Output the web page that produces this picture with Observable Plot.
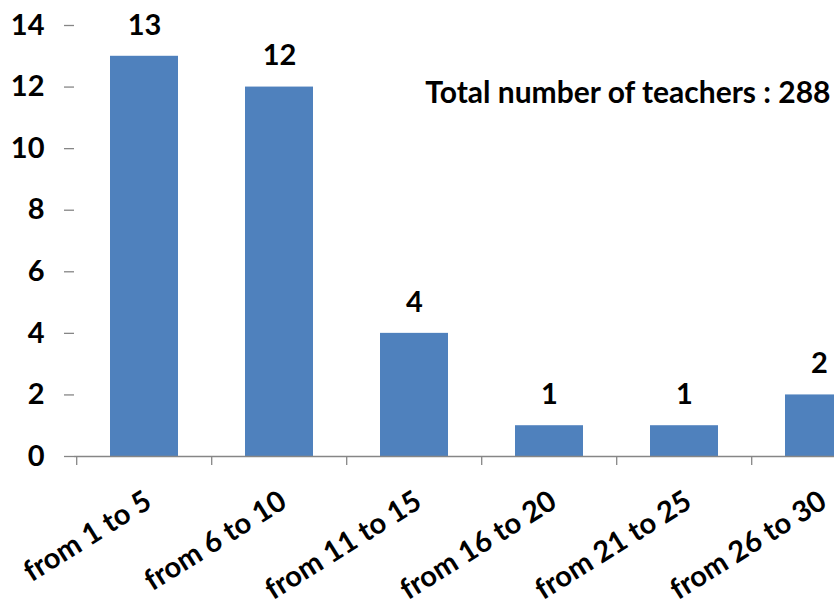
<!DOCTYPE html>
<html>
<head>
<meta charset="utf-8">
<script src="https://cdn.jsdelivr.net/npm/d3@7"></script>
<script src="https://cdn.jsdelivr.net/npm/@observablehq/plot@0.6"></script>
<style>
  html, body { margin: 0; padding: 0; background: #fff; }
  #chart svg { display: block; }
</style>
</head>
<body>
<div id="chart"></div>
<script>
const categories = ["from 1 to 5", "from 6 to 10", "from 11 to 15", "from 16 to 20", "from 21 to 25", "from 26 to 30"];
const counts = [13, 12, 4, 1, 1, 2];
const yTicks = [0, 2, 4, 6, 8, 10, 12, 14];
const totalLabel = "Total number of teachers : 288";
const totalLabelY = 11.8;

const data = categories.map((c, i) => ({category: c, count: counts[i]}));

const W = 834, H = 603;
const left = 74, xEnd = 887.5;
const step = (xEnd - left) / categories.length;
const font = "Lato, 'Open Sans', sans-serif";
const fs = 29;
const axisColor = "#868686";

const chart = Plot.plot({
  width: W,
  height: H,
  marginLeft: left,
  marginRight: 0,
  marginTop: 25,
  marginBottom: 147,
  style: {fontFamily: font, fontWeight: "bold", color: "#000", background: "#fff", overflow: "hidden"},
  x: {domain: categories, range: [left, xEnd], paddingInner: 0.5, paddingOuter: 0.25, axis: null},
  y: {domain: [0, 14], axis: null},
  marks: [
    Plot.barY(data, {x: "category", y: "count", fill: "#4f81bd"}),
    Plot.ruleX(categories, {x: d => d, y1: 0, y2: 0, dx: -step / 2, insetBottom: -9, stroke: axisColor, strokeWidth: 1.3}),
    Plot.ruleY([0], {stroke: axisColor, strokeWidth: 1.3}),
    Plot.axisY({ticks: yTicks, label: null, tickSize: 10, tickPadding: 20, stroke: axisColor, strokeWidth: 1.3, fontSize: fs, fill: "#000", fontWeight: "bold", tickFormat: d => d, textStroke: "none"}),
    Plot.ruleX([0], {frameAnchor: "left", y1: 0, y2: 14, stroke: axisColor, strokeWidth: 1.3}),
    Plot.text(data, {x: "category", y: "count", text: d => String(d.count), dy: -31, fontSize: fs, fontWeight: "bold", fill: "#000", lineAnchor: "middle"}),
    Plot.text(categories, {x: d => d, y: 0, text: d => d, rotate: -32, textAnchor: "end", lineAnchor: "middle", dy: 42, dx: 4, fontSize: fs, fontWeight: "bold", fill: "#000"}),
    Plot.text([totalLabel], {y: totalLabelY, frameAnchor: "right", textAnchor: "end", dx: -4, text: d => d, fontSize: 30, fontWeight: "bold", fill: "#000"})
  ]
});
document.getElementById("chart").append(chart);
</script>
</body>
</html>
